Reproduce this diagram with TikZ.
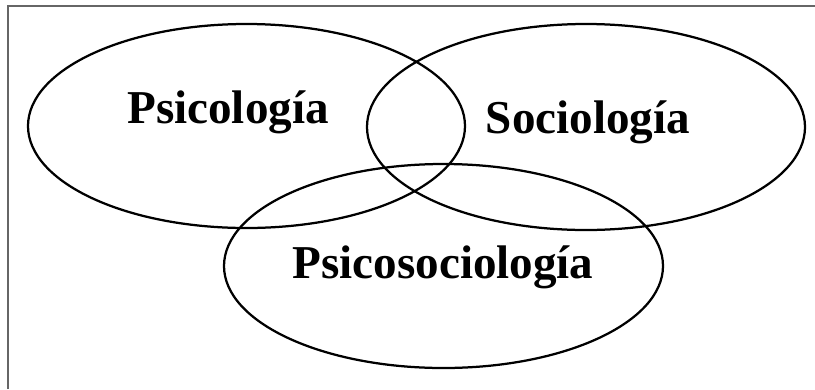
\documentclass[tikz,border=0pt]{standalone}
\usepackage{fontspec}
\setmainfont{Liberation Serif}
\usetikzlibrary{positioning}

\begin{document}
\begin{tikzpicture}[x=0.025cm, y=-0.025cm, font=\bfseries\fontsize{33.5}{33.5}\selectfont]
    \useasboundingbox (0,0) rectangle (815,389);
    % 1. Frame (top and left edges only)
    \draw[line width=1.4pt, black!60] (8,389) -- (8,6) -- (815,6);
    % 2. The three fields
    \draw[line width=1.6pt] (246.5,126) ellipse [x radius=218.5, y radius=102];
    \draw[line width=1.6pt] (586,127) ellipse [x radius=219, y radius=103];
    \draw[line width=1.6pt] (443.5,266) ellipse [x radius=219.5, y radius=102];
    % 3. Labels
    \node[anchor=base] (psico) at (228,123) {Psicología};
    \node[anchor=base] (socio) at (588,133) {Sociología};
    \node[anchor=base] (psicosocio) at (443,278) {Psicosociología};
\end{tikzpicture}
\end{document}
